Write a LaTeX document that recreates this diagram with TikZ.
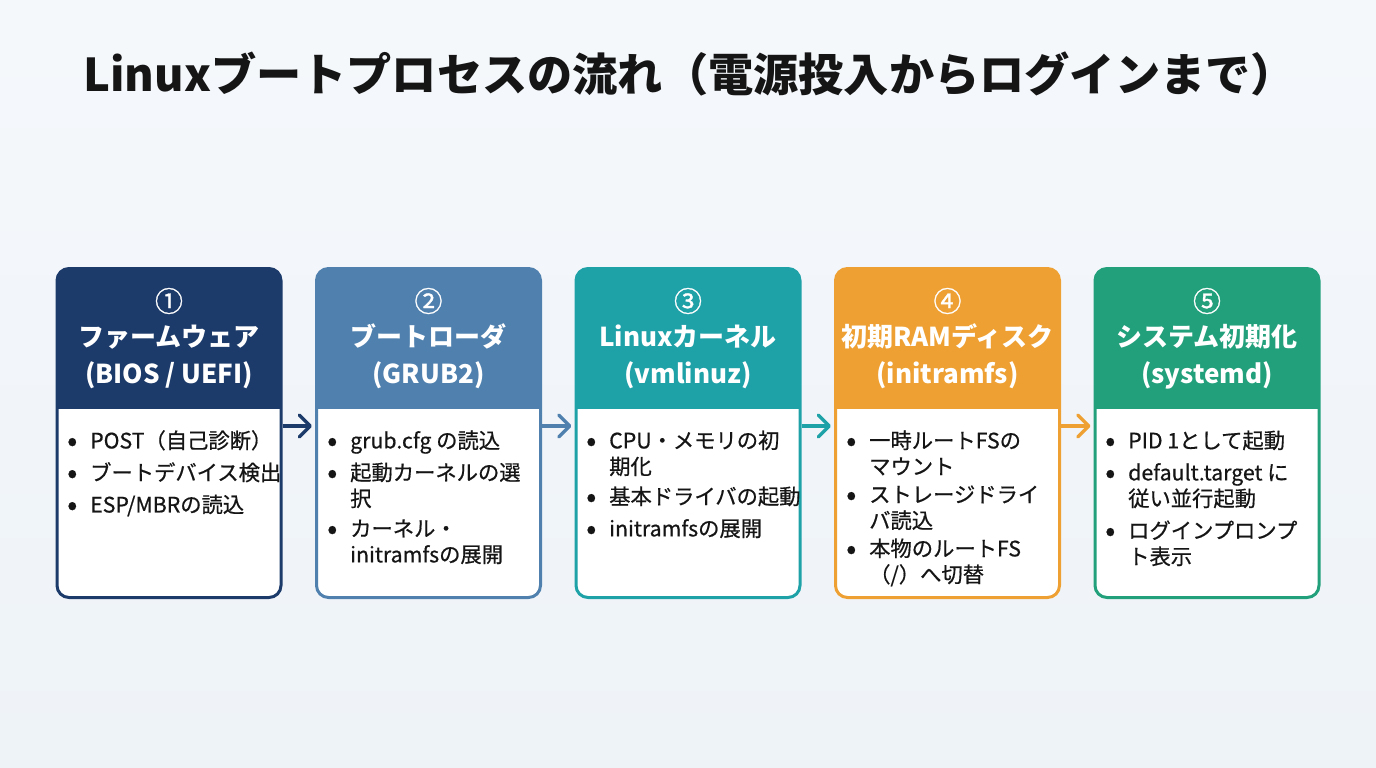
\documentclass[tikz,border=0pt]{standalone}
\usepackage{fontspec}
\setmainfont{Noto Sans CJK JP}
\newfontfamily\bodyfont[FakeBold=0.6]{Noto Sans CJK JP}
\newfontfamily\numfont[FakeBold=1.2]{Noto Sans CJK JP}
\usetikzlibrary{arrows.meta}
\definecolor{bgtop}{HTML}{F5F8FB}
\definecolor{bgbot}{HTML}{EEF3F8}
\definecolor{cnavy}{HTML}{1C3A6A}
\definecolor{csteel}{HTML}{4F80AE}
\definecolor{cteal}{HTML}{1FA1A8}
\definecolor{corange}{HTML}{EEA032}
\definecolor{cgreen}{HTML}{22A07B}
\definecolor{textc}{HTML}{151515}
\newcommand\bul{\raisebox{-2.5pt}{\fontsize{30}{26}\selectfont •}}
\begin{document}
\begin{tikzpicture}[x=1pt,y=-1pt,
  card/.style={draw=#1, line width=3pt, fill=white, rounded corners=12pt,
    minimum width=224pt, minimum height=329pt, inner sep=0pt,
    path picture={\fill[#1, sharp corners] ([yshift=3pt,xshift=-3pt]path picture bounding box.north west) rectangle ([yshift=-140.5pt,xshift=3pt]path picture bounding box.north east);}},
  hnum/.style={text=white, inner sep=0pt, font=\numfont\fontsize{28}{28}\selectfont},
  htitle/.style={text=white, inner sep=0pt, align=center, font=\bfseries\fontsize{26}{37}\selectfont},
  body/.style={anchor=north west, inner sep=0pt, text=textc, align=left, font=\bodyfont\fontsize{21.3}{26}\selectfont},
  arr/.style={draw=#1, line width=3.5pt, -{Straight Barb[length=11pt,width=22pt,line width=3.5pt,round]}}
]
\useasboundingbox (0,0) rectangle (1376,768);
\shade[top color=bgtop, bottom color=bgbot] (0,0) rectangle (1376,768);

\node[anchor=base west, inner sep=0pt, text=textc, font=\bfseries\fontsize{45.2}{45}\selectfont] (title) at (83,92) {Linuxブートプロセスの流れ（電源投入からログインまで）};

\node[card=cnavy] (c1) at (169,433) {};
\node[card=csteel] (c2) at (428.5,433) {};
\node[card=cteal] (c3) at (688,433) {};
\node[card=corange] (c4) at (947.5,433) {};
\node[card=cgreen] (c5) at (1207,433) {};

\node[hnum] (n1) at (169,301) {①};
\node[hnum] (n2) at (428.5,301) {②};
\node[hnum] (n3) at (688,301) {③};
\node[hnum] (n4) at (947.5,301) {④};
\node[hnum] (n5) at (1207,301) {⑤};

\node[htitle] (h1) at (169,356.5) {ファームウェア\\(BIOS / UEFI)};
\node[htitle] (h2) at (428.5,356.5) {ブートローダ\\(GRUB2)};
\node[htitle] (h3) at (688,356.5) {Linuxカーネル\\(vmlinuz)};
\node[htitle] (h4) at (947.5,356.5) {初期RAMディスク\\(initramfs)};
\node[htitle] (h5) at (1207,356.5) {システム初期化\\(systemd)};

\node[body] (b1) at (67,430) {\begin{tabular}{@{}p{23pt}@{}l@{}}
\bul&POST（自己診断）\\[6pt]
\bul&ブートデバイス検出\\[6pt]
\bul&ESP/MBRの読込
\end{tabular}};
\node[body] (b2) at (327,430) {\begin{tabular}{@{}p{23pt}@{}l@{}}
\bul&grub.cfg の読込\\[6pt]
\bul&起動カーネルの選\\
&択\\[4pt]
\bul&カーネル・\\
&initramfsの展開
\end{tabular}};
\node[body] (b3) at (586,430) {\begin{tabular}{@{}p{23pt}@{}l@{}}
\bul&CPU・メモリの初\\
&期化\\[4pt]
\bul&基本ドライバの起動\\[6pt]
\bul&initramfsの展開
\end{tabular}};
\node[body] (b4) at (846,430) {\begin{tabular}{@{}p{23pt}@{}l@{}}
\bul&一時ルートFSの\\
&マウント\\[2pt]
\bul&ストレージドライ\\
&バ読込\\[2pt]
\bul&本物のルートFS\\
&（/）へ切替
\end{tabular}};
\node[body] (b5) at (1105,430) {\begin{tabular}{@{}p{23pt}@{}l@{}}
\bul&PID 1として起動\\[6pt]
\bul&default.target に\\
&従い並行起動\\[6pt]
\bul&ログインプロンプ\\
&ト表示
\end{tabular}};

\coordinate (ay) at (0,426);
\draw[arr=cnavy] (c1.east |- ay) -- ([xshift=-3pt]c2.west |- ay);
\draw[arr=csteel] (c2.east |- ay) -- ([xshift=-3pt]c3.west |- ay);
\draw[arr=cteal] (c3.east |- ay) -- ([xshift=-3pt]c4.west |- ay);
\draw[arr=corange] (c4.east |- ay) -- ([xshift=-3pt]c5.west |- ay);
\end{tikzpicture}
\end{document}
